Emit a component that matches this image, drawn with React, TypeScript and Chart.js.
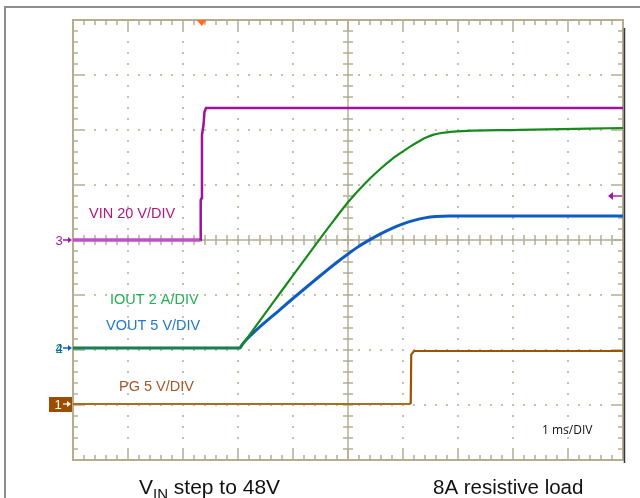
import React, { useEffect, useRef } from "react";
import { Chart, registerables } from "chart.js";

Chart.register(...registerables);

// Oscilloscope settings (time in ms, 1 ms/div, 10 x 8 divisions)
const TIME_DIVS = 10;
const VERT_DIVS = 8;

// Channel scales (units per division) and ground-marker offsets (divisions from bottom)
const VIN_SCALE = 20;
const VIN_OFFSET = 4.0;
const IOUT_SCALE = 2;
const IOUT_OFFSET = 2.036;
const VOUT_SCALE = 5;
const VOUT_OFFSET = 2.036;
const PG_SCALE = 5;
const PG_OFFSET = 1.018;
const TRIGGER_LEVEL_V = 16;
const TRIGGER_TIME_MS = 2.34;

// VIN (V)
const vinTime = [0, 2.318, 2.322, 2.34, 2.345, 2.373, 2.39, 2.418, 4.0, 6.0, 8.0, 10.0];
const vinVolts = [0, 0, 14.5, 15.3, 38.2, 41.8, 46.5, 48, 48, 48, 48, 48];

// IOUT (A)
const ioutTime = [0, 3.036, 3.06, 3.2, 3.6, 4.0, 4.345, 4.49, 4.75, 5.0, 5.278, 5.58, 5.795, 6.0, 6.158, 6.31, 6.431, 6.545, 6.673, 6.91, 8.13, 10.0];
const ioutAmps = [0, 0, 0.06, 0.45, 1.55, 2.64, 3.58, 3.97, 4.66, 5.3, 5.92, 6.5, 6.86, 7.15, 7.36, 7.54, 7.66, 7.75, 7.81, 7.87, 7.93, 8.0];

// VOUT (V)
const voutTime = [0, 3.036, 3.06, 3.15, 3.764, 4.49, 4.8, 5.0, 5.2, 5.4, 5.6, 5.8, 6.0, 6.2, 6.4, 6.6, 6.85, 10.0];
const voutVolts = [0, 0, 0.2, 0.75, 3.5, 6.55, 7.8, 8.55, 9.25, 9.85, 10.4, 10.88, 11.28, 11.6, 11.83, 11.95, 12.0, 12.0];

// PG (V)
const pgTime = [0, 6.14, 6.15, 6.2, 10.0];
const pgVolts = [0, 0, 4.5, 4.82, 4.82];

const toPoints = (t: number[], v: number[], scale: number, offset: number) =>
  t.map((tt, i) => ({ x: tt, y: offset + v[i] / scale }));

const GRID = "#b3ae92";
const DOT = "#c6c2a8";

const graticule = {
  id: "graticule",
  beforeDatasetsDraw(chart: any) {
    const { ctx, chartArea: a, scales } = chart;
    const xs = scales.x;
    const ys = scales.y;
    ctx.save();
    ctx.fillStyle = DOT;
    for (let i = 1; i < TIME_DIVS; i++) {
      if (i === TIME_DIVS / 2) continue;
      const px = Math.round(xs.getPixelForValue(i));
      for (let k = 1; k < VERT_DIVS * 5; k++) {
        const py = Math.round(ys.getPixelForValue(k / 5));
        ctx.fillRect(px - 1, py - 1, 2, 2);
      }
    }
    for (let j = 1; j < VERT_DIVS; j++) {
      if (j === VERT_DIVS / 2) continue;
      const py = Math.round(ys.getPixelForValue(j));
      for (let k = 1; k < TIME_DIVS * 5; k++) {
        const px = Math.round(xs.getPixelForValue(k / 5));
        ctx.fillRect(px - 1, py - 1, 2, 2);
      }
    }
    ctx.strokeStyle = GRID;
    const cx = xs.getPixelForValue(TIME_DIVS / 2);
    const cy = ys.getPixelForValue(VERT_DIVS / 2);
    ctx.lineWidth = 1.5;
    ctx.beginPath();
    ctx.moveTo(cx, a.top);
    ctx.lineTo(cx, a.bottom);
    ctx.moveTo(a.left, cy);
    ctx.lineTo(a.right, cy);
    ctx.stroke();
    ctx.beginPath();
    for (let k = 1; k < VERT_DIVS * 5; k++) {
      const py = ys.getPixelForValue(k / 5);
      ctx.moveTo(cx - 5, py);
      ctx.lineTo(cx + 5, py);
    }
    for (let k = 1; k < TIME_DIVS * 5; k++) {
      const px = xs.getPixelForValue(k / 5);
      ctx.moveTo(px, cy - 5);
      ctx.lineTo(px, cy + 5);
    }
    ctx.stroke();
    ctx.beginPath();
    for (let k = 1; k < VERT_DIVS * 5; k++) {
      const py = ys.getPixelForValue(k / 5);
      const len = k % 5 === 0 ? 10 : 5;
      ctx.moveTo(a.left, py);
      ctx.lineTo(a.left + len, py);
      ctx.moveTo(a.right, py);
      ctx.lineTo(a.right - len, py);
    }
    for (let k = 1; k < TIME_DIVS * 5; k++) {
      const px = xs.getPixelForValue(k / 5);
      const len = k % 5 === 0 ? 10 : 5;
      ctx.moveTo(px, a.top);
      ctx.lineTo(px, a.top + len);
      ctx.moveTo(px, a.bottom);
      ctx.lineTo(px, a.bottom - len);
    }
    ctx.stroke();
    ctx.lineWidth = 2;
    ctx.strokeRect(a.left, a.top, a.right - a.left, a.bottom - a.top);
    ctx.restore();
  },
  afterDraw(chart: any) {
    const { ctx, chartArea: a, scales } = chart;
    const ys = scales.y;
    const xs = scales.x;
    ctx.save();
    // outer frame
    ctx.strokeStyle = "#8e8e8e";
    ctx.lineWidth = 2;
    ctx.beginPath();
    ctx.moveTo(5, 498);
    ctx.lineTo(5, 7);
    ctx.lineTo(640, 7);
    ctx.stroke();
    // right dark edge
    ctx.strokeStyle = "#3a3a3a";
    ctx.lineWidth = 1.5;
    ctx.beginPath();
    ctx.moveTo(a.right + 1.5, a.top + 8);
    ctx.lineTo(a.right + 1.5, a.bottom + 3);
    ctx.stroke();

    // trigger position marker
    const tx = xs.getPixelForValue(TRIGGER_TIME_MS);
    ctx.fillStyle = "#ff6b1f";
    ctx.beginPath();
    ctx.moveTo(tx - 5, a.top);
    ctx.lineTo(tx + 5, a.top);
    ctx.lineTo(tx, a.top + 6);
    ctx.closePath();
    ctx.fill();

    // trigger level arrow (right)
    const ty = ys.getPixelForValue(VIN_OFFSET + TRIGGER_LEVEL_V / VIN_SCALE);
    ctx.strokeStyle = "#c05ac0";
    ctx.fillStyle = "#a21aa2";
    ctx.lineWidth = 2;
    ctx.beginPath();
    ctx.moveTo(a.right - 1, ty);
    ctx.lineTo(a.right - 11, ty);
    ctx.stroke();
    ctx.beginPath();
    ctx.moveTo(a.right - 15, ty);
    ctx.lineTo(a.right - 10, ty - 4);
    ctx.lineTo(a.right - 10, ty + 4);
    ctx.closePath();
    ctx.fill();

    const arrowRight = (y: number, color: string) => {
      ctx.strokeStyle = color;
      ctx.fillStyle = color;
      ctx.lineWidth = 1.5;
      ctx.beginPath();
      ctx.moveTo(a.left - 10, y);
      ctx.lineTo(a.left - 3, y);
      ctx.stroke();
      ctx.beginPath();
      ctx.moveTo(a.left - 1, y);
      ctx.lineTo(a.left - 5, y - 3);
      ctx.lineTo(a.left - 5, y + 3);
      ctx.closePath();
      ctx.fill();
    };

    ctx.font = '13px "Liberation Sans Narrow", "Liberation Sans", Arial, sans-serif';
    ctx.textAlign = "center";
    ctx.textBaseline = "middle";
    const y3 = ys.getPixelForValue(VIN_OFFSET);
    ctx.fillStyle = "#a21aa2";
    ctx.fillText("3", a.left - 14, y3 + 1);
    arrowRight(y3, "#a21aa2");

    const y4 = ys.getPixelForValue(VOUT_OFFSET);
    ctx.fillStyle = "#1e9a3a";
    ctx.fillText("2", a.left - 14, y4 + 1);
    ctx.fillStyle = "#1060c0";
    ctx.fillText("4", a.left - 14, y4 + 1);
    arrowRight(y4, "#1060c0");

    const y1 = ys.getPixelForValue(PG_OFFSET);
    ctx.fillStyle = "#9c4d00";
    ctx.fillRect(a.left - 24, y1 - 7, 23, 15);
    ctx.fillStyle = "#ffffff";
    ctx.fillText("1", a.left - 15, y1 + 1);
    ctx.strokeStyle = "#ffffff";
    ctx.lineWidth = 1.2;
    ctx.beginPath();
    ctx.moveTo(a.left - 10, y1);
    ctx.lineTo(a.left - 4, y1);
    ctx.stroke();
    ctx.beginPath();
    ctx.fillStyle = "#ffffff";
    ctx.moveTo(a.left - 2, y1);
    ctx.lineTo(a.left - 6, y1 - 3);
    ctx.lineTo(a.left - 6, y1 + 3);
    ctx.closePath();
    ctx.fill();

    // channel labels
    ctx.textAlign = "left";
    ctx.textBaseline = "middle";
    ctx.font = '14.5px "Liberation Sans", Arial, sans-serif';
    ctx.fillStyle = "#b0197e";
    ctx.fillText("VIN 20 V/DIV", 89, 214);
    ctx.fillStyle = "#24b053";
    ctx.fillText("IOUT 2 A/DIV", 110, 300);
    ctx.fillStyle = "#2279cc";
    ctx.fillText("VOUT 5 V/DIV", 106, 326);
    ctx.fillStyle = "#a3572b";
    ctx.fillText("PG 5 V/DIV", 119, 387);
    ctx.fillStyle = "#111111";
    ctx.font = '12px "Open Sans", "Liberation Sans", sans-serif';
    ctx.fillText("1 ms/DIV", 542, 431);

    // captions
    ctx.textBaseline = "alphabetic";
    ctx.fillStyle = "#111111";
    ctx.font = '21px "Liberation Sans", Arial, sans-serif';
    let cxp = 139;
    ctx.fillText("V", cxp, 494);
    cxp += ctx.measureText("V").width;
    ctx.font = '15px "Liberation Sans", Arial, sans-serif';
    ctx.fillText("IN", cxp, 499);
    cxp += ctx.measureText("IN").width;
    ctx.font = '21px "Liberation Sans", Arial, sans-serif';
    ctx.fillText(" step to 48V", cxp, 494);
    ctx.font = '20.5px "Liberation Sans", Arial, sans-serif';
    ctx.fillText("8A resistive load", 433, 494);
    ctx.restore();
  },
};

export default function App() {
  const ref = useRef<HTMLCanvasElement | null>(null);
  useEffect(() => {
    if (!ref.current) return;
    const chart = new Chart(ref.current, {
      type: "line",
      data: {
        datasets: [
          {
            label: "VIN",
            data: toPoints(vinTime, vinVolts, VIN_SCALE, VIN_OFFSET),
            borderColor: "#9e129e",
            borderWidth: 2.5,
            pointRadius: 0,
            tension: 0,
            segment: {
              borderColor: (c: any) =>
                c.p0.parsed.y < VIN_OFFSET + 0.1 && c.p1.parsed.y < VIN_OFFSET + 0.1 ? "#c44ec6" : "#9e129e",
              borderWidth: (c: any) =>
                c.p0.parsed.y < VIN_OFFSET + 0.1 && c.p1.parsed.y < VIN_OFFSET + 0.1 ? 3.5 : 2.5,
            },
          },
          {
            label: "PG",
            data: toPoints(pgTime, pgVolts, PG_SCALE, PG_OFFSET),
            borderColor: "#9f5200",
            borderWidth: 2.2,
            pointRadius: 0,
            tension: 0,
            segment: {
              borderColor: (c: any) =>
                c.p0.parsed.y < PG_OFFSET + 0.1 && c.p1.parsed.y < PG_OFFSET + 0.1 ? "#a8701a" : "#9f5200",
            },
          },
          {
            label: "IOUT",
            data: toPoints(ioutTime, ioutAmps, IOUT_SCALE, IOUT_OFFSET),
            borderColor: "#178a1c",
            borderWidth: 2.2,
            pointRadius: 0,
            cubicInterpolationMode: "monotone",
          },
          {
            label: "VOUT",
            data: toPoints(voutTime, voutVolts, VOUT_SCALE, VOUT_OFFSET),
            borderColor: "#0f5cc0",
            borderWidth: 3,
            pointRadius: 0,
            cubicInterpolationMode: "monotone",
          },
        ],
      },
      options: {
        animation: false,
        responsive: false,
        devicePixelRatio: 1,
        layout: { padding: { left: 73, top: 20, right: 17, bottom: 38 } },
        plugins: { legend: { display: false }, tooltip: { enabled: false }, title: { display: false } },
        scales: {
          x: { type: "linear", min: 0, max: TIME_DIVS, display: false },
          y: { type: "linear", min: 0, max: VERT_DIVS, display: false },
        },
      },
      plugins: [graticule],
    } as any);
    return () => chart.destroy();
  }, []);
  return (
    <div style={{ position: "absolute", left: 0, top: 0, width: 640, height: 498, background: "#ffffff" }}>
      <canvas ref={ref} width={640} height={498} style={{ display: "block" }} />
    </div>
  );
}
